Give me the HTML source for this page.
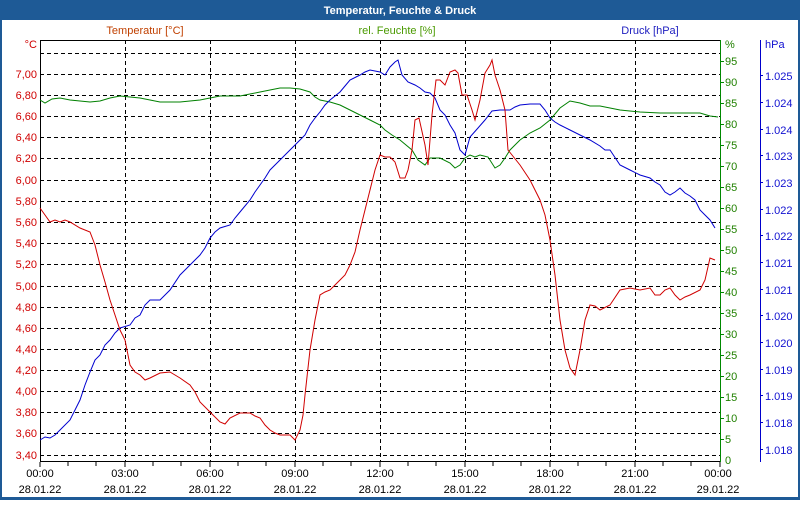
<!DOCTYPE html>
<html><head><meta charset="utf-8"><style>
body{margin:0;width:800px;height:500px;overflow:hidden;background:#fff;font-family:"Liberation Sans",sans-serif}
</style></head><body>
<svg width="800" height="500" xmlns="http://www.w3.org/2000/svg" font-family="Liberation Sans, sans-serif" font-size="11">
<rect x="0" y="0" width="800" height="500" fill="#1e5a96"/>
<rect x="2" y="20" width="796" height="477" fill="#fff"/>
<text x="400" y="14" fill="#fff" font-weight="bold" text-anchor="middle">Temperatur, Feuchte &amp; Druck</text>
<text x="145" y="34" fill="#c04000" text-anchor="middle">Temperatur [°C]</text>
<text x="397" y="34" fill="#4a9a00" text-anchor="middle">rel. Feuchte [%]</text>
<text x="650" y="34" fill="#2020c0" text-anchor="middle">Druck [hPa]</text>
<g stroke="#000" stroke-dasharray="4,3" stroke-width="1">
<line x1="40" y1="53.5" x2="720" y2="53.5"/><line x1="40" y1="74.5" x2="720" y2="74.5"/><line x1="40" y1="95.5" x2="720" y2="95.5"/><line x1="40" y1="116.5" x2="720" y2="116.5"/><line x1="40" y1="137.5" x2="720" y2="137.5"/><line x1="40" y1="158.5" x2="720" y2="158.5"/><line x1="40" y1="180.5" x2="720" y2="180.5"/><line x1="40" y1="201.5" x2="720" y2="201.5"/><line x1="40" y1="222.5" x2="720" y2="222.5"/><line x1="40" y1="243.5" x2="720" y2="243.5"/><line x1="40" y1="264.5" x2="720" y2="264.5"/><line x1="40" y1="286.5" x2="720" y2="286.5"/><line x1="40" y1="307.5" x2="720" y2="307.5"/><line x1="40" y1="328.5" x2="720" y2="328.5"/><line x1="40" y1="349.5" x2="720" y2="349.5"/><line x1="40" y1="370.5" x2="720" y2="370.5"/><line x1="40" y1="391.5" x2="720" y2="391.5"/><line x1="40" y1="412.5" x2="720" y2="412.5"/><line x1="40" y1="433.5" x2="720" y2="433.5"/><line x1="40" y1="455.5" x2="720" y2="455.5"/>
<line x1="125.5" y1="40" x2="125.5" y2="461"/><line x1="210.5" y1="40" x2="210.5" y2="461"/><line x1="295.5" y1="40" x2="295.5" y2="461"/><line x1="380.5" y1="40" x2="380.5" y2="461"/><line x1="465.5" y1="40" x2="465.5" y2="461"/><line x1="550.5" y1="40" x2="550.5" y2="461"/><line x1="635.5" y1="40" x2="635.5" y2="461"/>
</g>
<line x1="40" y1="40.5" x2="720" y2="40.5" stroke="#000"/>
<line x1="40.5" y1="40" x2="40.5" y2="462" stroke="#000"/>
<line x1="40" y1="461.5" x2="720" y2="461.5" stroke="#000"/>
<line x1="720.5" y1="40" x2="720.5" y2="462" stroke="#080"/>
<line x1="760.5" y1="40" x2="760.5" y2="462" stroke="#00c"/>
<g stroke="#000"><path d="M40 462v5M68 462v4M96 462v4M125 462v5M153 462v4M181 462v4M210 462v5M238 462v4M266 462v4M295 462v5M323 462v4M351 462v4M380 462v5M408 462v4M436 462v4M465 462v5M493 462v4M521 462v4M550 462v5M578 462v4M606 462v4M635 462v5M663 462v4M691 462v4M720 462v5"/></g>
<g fill="#d00000" text-anchor="end">
<text x="37" y="48">°C</text>
<text x="37" y="78">7,00</text><text x="37" y="99">6,80</text><text x="37" y="120">6,60</text><text x="37" y="141">6,40</text><text x="37" y="162">6,20</text><text x="37" y="184">6,00</text><text x="37" y="205">5,80</text><text x="37" y="226">5,60</text><text x="37" y="247">5,40</text><text x="37" y="268">5,20</text><text x="37" y="290">5,00</text><text x="37" y="311">4,80</text><text x="37" y="332">4,60</text><text x="37" y="353">4,40</text><text x="37" y="374">4,20</text><text x="37" y="395">4,00</text><text x="37" y="416">3,80</text><text x="37" y="437">3,60</text><text x="37" y="459">3,40</text>
</g>
<g fill="#208000"><text x="725" y="48">%</text>
<text x="725" y="65">95</text><text x="725" y="86">90</text><text x="725" y="107">85</text><text x="725" y="128">80</text><text x="725" y="149">75</text><text x="725" y="170">70</text><text x="725" y="191">65</text><text x="725" y="212">60</text><text x="725" y="233">55</text><text x="725" y="254">50</text><text x="725" y="275">45</text><text x="725" y="296">40</text><text x="725" y="317">35</text><text x="725" y="338">30</text><text x="725" y="359">25</text><text x="725" y="380">20</text><text x="725" y="401">15</text><text x="725" y="422">10</text><text x="725" y="443">5</text><text x="725" y="464">0</text></g>
<g stroke="#080"><path d="M720 61.5h4M720 82.5h4M720 103.5h4M720 124.5h4M720 145.5h4M720 166.5h4M720 187.5h4M720 208.5h4M720 229.5h4M720 250.5h4M720 271.5h4M720 292.5h4M720 313.5h4M720 334.5h4M720 355.5h4M720 376.5h4M720 397.5h4M720 418.5h4M720 439.5h4"/></g>
<g fill="#1010d0"><text x="765" y="48">hPa</text>
<text x="765" y="80">1.025</text><text x="765" y="107">1.024</text><text x="765" y="134">1.024</text><text x="765" y="160">1.023</text><text x="765" y="187">1.023</text><text x="765" y="214">1.022</text><text x="765" y="240">1.022</text><text x="765" y="267">1.021</text><text x="765" y="294">1.021</text><text x="765" y="320">1.020</text><text x="765" y="347">1.020</text><text x="765" y="374">1.019</text><text x="765" y="400">1.019</text><text x="765" y="427">1.018</text><text x="765" y="454">1.018</text></g>
<g stroke="#00c"><path d="M760 75.5h3M760 102.5h3M760 129.5h3M760 155.5h3M760 182.5h3M760 209.5h3M760 235.5h3M760 262.5h3M760 289.5h3M760 315.5h3M760 342.5h3M760 369.5h3M760 395.5h3M760 422.5h3M760 449.5h3"/></g>
<g fill="#000" text-anchor="middle">
<text x="40" y="477">00:00</text><text x="125" y="477">03:00</text><text x="210" y="477">06:00</text><text x="295" y="477">09:00</text><text x="380" y="477">12:00</text><text x="465" y="477">15:00</text><text x="550" y="477">18:00</text><text x="635" y="477">21:00</text><text x="718" y="477">00:00</text>
<text x="40" y="493">28.01.22</text><text x="125" y="493">28.01.22</text><text x="210" y="493">28.01.22</text><text x="295" y="493">28.01.22</text><text x="380" y="493">28.01.22</text><text x="465" y="493">28.01.22</text><text x="550" y="493">28.01.22</text><text x="635" y="493">28.01.22</text><text x="718" y="493">29.01.22</text></g>
<polyline fill="none" stroke="#008000" points="40,100 45,103 52,99 60,98 70,100 80,101 90,102 100,101 110,98 120,96 130,97 140,98 150,100 160,102 170,102 180,102 190,101 200,100 210,98 220,96 230,96 240,96 250,94 260,92 270,90 280,88 290,88 300,89 310,92 315,97 320,100 330,102 340,105 350,110 360,115 370,120 380,125 385,130 392,135 400,140 412,150 418,160 425,165 430,158 440,158 450,163 455,168 460,165 465,158 470,155 475,157 480,155 488,157 495,168 500,165 505,158 510,150 520,140 530,133 540,128 550,120 560,108 570,101 580,103 590,106 600,106 610,108 620,110 640,112 660,113 680,113 700,113 710,116 718,117"/>
<polyline fill="none" stroke="#0000d0" points="40,440 45,437 50,438 55,435 60,430 70,420 75,410 80,400 85,385 90,372 95,360 100,355 105,345 110,340 115,333 120,328 130,325 135,318 140,315 145,305 150,300 160,300 165,295 170,290 180,275 190,265 200,255 205,248 210,238 215,232 220,228 230,225 235,218 240,212 250,200 255,192 260,185 265,178 270,170 280,160 290,150 300,140 305,135 310,125 315,118 320,112 325,105 330,100 340,92 345,86 350,80 360,75 365,72 370,70 380,72 385,75 390,67 395,62 398,60 402,75 408,82 415,85 420,88 425,92 430,93 435,98 440,110 445,115 450,125 455,133 460,150 465,155 470,137 478,128 485,120 492,111 500,110 510,110 515,107 520,105 530,104 540,104 545,110 550,118 555,122 560,125 570,130 580,135 590,140 600,146 605,150 610,150 620,165 630,170 640,175 650,178 655,182 660,185 665,192 670,195 675,192 680,188 685,193 690,196 695,200 700,210 705,215 710,220 715,228"/>
<polyline fill="none" stroke="#d00000" points="40,208 45,215 50,222 55,220 60,222 65,220 70,222 80,228 90,232 95,245 100,265 105,282 110,300 115,315 120,330 125,340 130,365 135,372 140,375 145,380 150,378 160,373 170,372 175,375 180,378 190,385 195,392 200,402 210,412 220,422 225,424 230,418 240,413 250,413 255,416 260,418 265,425 270,430 275,433 280,435 290,435 295,440 300,430 303,415 305,395 310,350 315,320 320,295 325,292 330,290 335,285 340,280 345,275 350,265 355,252 360,230 365,210 370,190 375,170 380,155 385,157 390,157 395,162 400,178 405,178 408,170 412,150 415,120 419,118 425,145 428,165 432,115 436,80 440,80 445,85 450,72 455,70 458,73 462,95 467,95 472,110 475,120 480,100 485,73 490,65 492,60 495,75 500,90 505,110 508,150 512,155 520,165 530,180 540,200 545,215 550,240 555,275 560,320 565,350 570,368 575,375 580,350 585,320 590,305 595,306 600,310 610,305 620,290 630,288 640,290 650,288 655,295 660,295 665,290 670,288 675,295 680,300 685,297 690,295 700,290 705,280 710,258 715,260"/>
</svg>
</body></html>
